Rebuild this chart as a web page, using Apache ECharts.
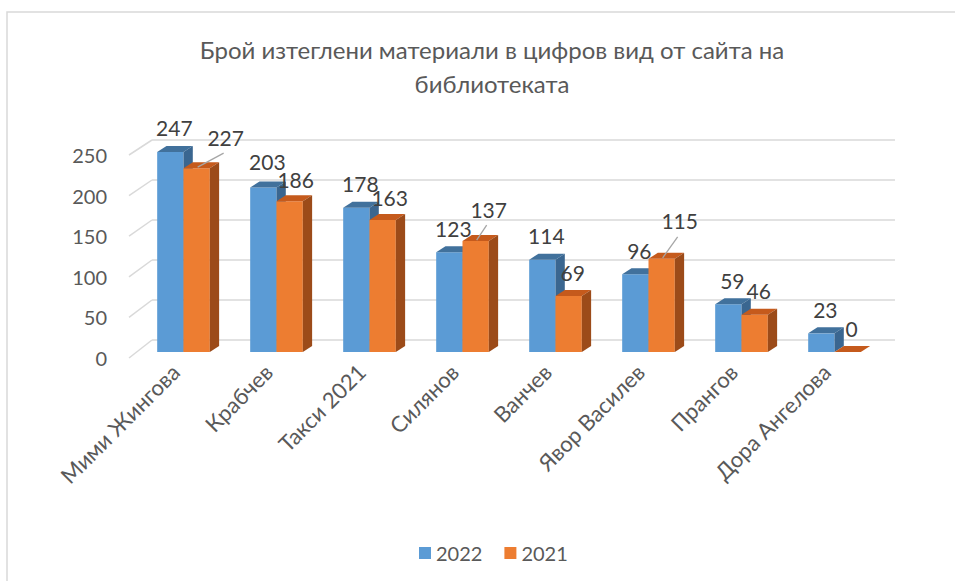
<!DOCTYPE html>
<html>
<head>
<meta charset="utf-8">
<script src="https://cdn.jsdelivr.net/npm/echarts@6/dist/echarts.min.js"></script>
<style>
  html, body { margin: 0; padding: 0; background: #fff; }
  #chart { width: 955px; height: 581px; }
</style>
</head>
<body>
<div id="chart"></div>
<script>
  // данни
  const categories = ['Мими Жингова', 'Крабчев', 'Такси 2021', 'Силянов', 'Ванчев', 'Явор Василев', 'Прангов', 'Дора Ангелова']
  const values2022 = [247, 203, 178, 123, 114, 96, 59, 23]
  const values2021 = [227, 186, 163, 137, 69, 115, 46, 0]
  const yTicks = [0, 50, 100, 150, 200, 250]

  const FONT = 'Lato, "Noto Sans", sans-serif'
  // плоскости на 3D графиката: предна (етикети), средна (колони), задна (мрежа)
  const front = { left: 129, top: 155, width: 744, height: 203 }
  const mid = { left: 137, top: 149.5, width: 744, height: 202.5 }
  const back = { left: 152, top: 140, width: 743, height: 200 }

  // леко преместени етикети (както в Excel, с водеща линия)
  const labelNudge = { 0: { 1: [0, -2] }, 1: { 0: [25, -7], 1: [2, 2], 2: [3, 2], 3: [9, -8], 5: [14, -14] } }
  const leaderLines = { 1: [0, 3, 5] }

  const palette = [
    { front: '#5B9BD5', top: '#41719C', side: '#3A6690' },
    { front: '#ED7D31', top: '#C55A1C', side: '#9C4B19' }
  ]

  function barRenderer (s) {
    return function (params, api) {
      const idx = api.value(0)
      const v = api.value(1)
      const top = api.coord([idx, v])
      const base = api.coord([idx, 0])
      const band = api.size([1, 0])[0]
      const w = band * 0.283
      const x0 = top[0] - w + s * w
      const x1 = x0 + w
      const dx = band * 0.1
      const dy = -6
      const c = palette[s]
      const children = [
        { type: 'rect', shape: { x: x0, y: top[1], width: w, height: base[1] - top[1] }, style: { fill: c.front } },
        { type: 'polygon', shape: { points: [[x0, top[1]], [x1, top[1]], [x1 + dx, top[1] + dy], [x0 + dx, top[1] + dy]] }, style: { fill: c.top } },
        { type: 'polygon', shape: { points: [[x1, top[1]], [x1 + dx, top[1] + dy], [x1 + dx, base[1] + dy], [x1, base[1]]] }, style: { fill: c.side } }
      ]
      const cx = x0 + w / 2
      let lx = cx + 4
      let ly = top[1] - 24
      const n = labelNudge[s] && labelNudge[s][idx]
      if (n) {
        lx += n[0]
        ly += n[1]
      }
      if (leaderLines[s] && leaderLines[s].indexOf(idx) >= 0) {
        children.push({
          type: 'line',
          shape: { x1: cx + 1, y1: top[1] - 1, x2: lx - 2, y2: ly + 16 },
          style: { stroke: '#a6a6a6', lineWidth: 1.3 }
        })
      }
      children.push({
        type: 'text',
        style: { text: String(v), x: lx, y: ly, align: 'center', verticalAlign: 'middle', fill: '#404040', font: '21px ' + FONT }
      })
      return { type: 'group', children: children }
    }
  }

  const chart = echarts.init(document.getElementById('chart'), null, { renderer: 'svg' })

  const option = {
    backgroundColor: '#fff',
    animation: false,
    title: {
      text: 'Брой изтеглени материали в цифров вид от сайта на\nбиблиотеката',
      left: 487,
      top: 27,
      textAlign: 'center',
      textStyle: { fontFamily: FONT, fontSize: 24, fontWeight: 'normal', color: '#595959', lineHeight: 34 }
    },
    legend: {
      data: ['2022', '2021'],
      left: 414,
      top: 538,
      icon: 'rect',
      itemWidth: 12,
      itemHeight: 12,
      itemGap: 22,
      textStyle: { fontFamily: FONT, fontSize: 20, color: '#595959' }
    },
    grid: [
      Object.assign({}, front),
      Object.assign({}, mid),
      Object.assign({}, back)
    ],
    xAxis: [
      {
        gridIndex: 0,
        type: 'category',
        data: categories,
        axisLine: { show: false },
        axisTick: { show: false },
        axisLabel: { interval: 0, rotate: 45, margin: 10, fontFamily: FONT, fontSize: 22, color: '#595959' }
      },
      { gridIndex: 1, type: 'category', data: categories, show: false },
      { gridIndex: 2, type: 'category', data: categories, show: false }
    ],
    yAxis: [
      {
        gridIndex: 0,
        type: 'value',
        min: 0,
        max: 250,
        interval: 50,
        axisLine: { show: false },
        axisTick: { show: false },
        splitLine: { show: false },
        axisLabel: { margin: 22, fontFamily: FONT, fontSize: 20, color: '#595959' }
      },
      { gridIndex: 1, type: 'value', min: 0, max: 250, interval: 50, show: false },
      {
        gridIndex: 2,
        type: 'value',
        min: 0,
        max: 250,
        interval: 50,
        axisLine: { show: false },
        axisTick: { show: false },
        axisLabel: { show: false },
        splitLine: { lineStyle: { color: '#d9d9d9', width: 1.5 } }
      }
    ],
    series: [
      {
        name: '2022',
        type: 'custom',
        xAxisIndex: 1,
        yAxisIndex: 1,
        itemStyle: { color: palette[0].front },
        renderItem: barRenderer(0),
        encode: { x: 0, y: 1 },
        data: values2022.map((v, i) => [i, v])
      },
      {
        name: '2021',
        type: 'custom',
        xAxisIndex: 1,
        yAxisIndex: 1,
        itemStyle: { color: palette[1].front },
        renderItem: barRenderer(1),
        encode: { x: 0, y: 1 },
        data: values2021.map((v, i) => [i, v])
      }
    ]
  }

  chart.setOption(option)

  // диагоналите на мрежата (от предната към задната стена) и рамката
  const graphics = [{
    type: 'polyline',
    shape: { points: [[7, 581], [7, 12], [960, 12]] },
    style: { stroke: '#d9d9d9', lineWidth: 1.5, fill: null },
    z: -10
  }]
  yTicks.forEach(function (t) {
    const yF = chart.convertToPixel({ yAxisIndex: 0 }, t)
    const yB = chart.convertToPixel({ yAxisIndex: 2 }, t)
    graphics.push({
      type: 'line',
      shape: { x1: front.left, y1: yF, x2: back.left, y2: yB },
      style: { stroke: '#d9d9d9', lineWidth: 1.5 },
      z: -5
    })
  })
  chart.setOption({ graphic: graphics })
</script>
</body>
</html>
